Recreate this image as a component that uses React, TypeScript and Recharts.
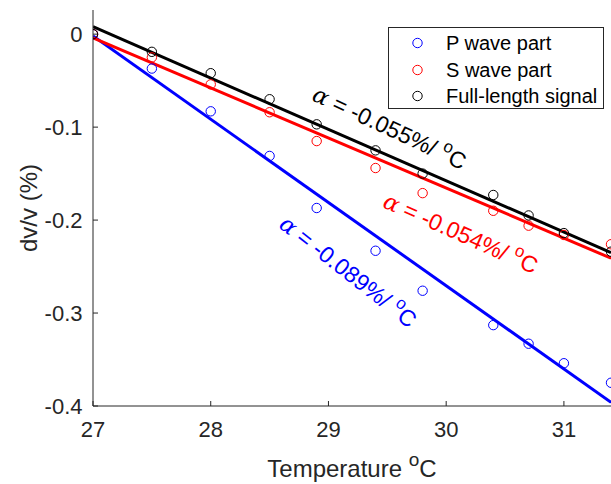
import {
  ComposedChart,
  Scatter,
  Line,
  XAxis,
  YAxis,
  Legend,
  ReferenceDot,
} from 'recharts';

// temperatures (°C) at which dv/v was measured
const TEMPS = [27, 27.5, 28, 28.5, 28.9, 29.4, 29.8, 30.4, 30.7, 31.0, 31.4];

// measured dv/v (%)
const P_WAVE = [0, -0.037, -0.083, -0.131, -0.187, -0.233, -0.276, -0.313, -0.333, -0.354, -0.375];
const S_WAVE = [0, -0.025, -0.054, -0.084, -0.115, -0.144, -0.171, -0.19, -0.206, -0.216, -0.226];
const FULL = [0, -0.019, -0.042, -0.07, -0.097, -0.125, -0.15, -0.173, -0.195, -0.214, -0.234];

// linear fits, read at both ends of the axis
const FIT_X = [27, 31.4];
const P_FIT = [-0.002, -0.396];
const S_FIT = [-0.004, -0.241];
const FULL_FIT = [0.008, -0.235];

const X_TICKS = [27, 28, 29, 30, 31];
const Y_TICKS = [0, -0.1, -0.2, -0.3, -0.4];

const SERIES_NAMES = ['P wave part', 'S wave part', 'Full-length signal'];
const SLOPE_LABELS = ['-0.089', '-0.054', '-0.055'];

const BLUE = '#0000ff';
const RED = '#ff0000';
const BLACK = '#000000';
const AXIS = '#262626';
const FONT = '"Liberation Sans", Arial, Helvetica, sans-serif';

const toPoints = (xs: number[], ys: number[]) => xs.map((x, i) => ({ x, y: ys[i] }));

const pData = toPoints(TEMPS, P_WAVE);
const sData = toPoints(TEMPS, S_WAVE);
const fullData = toPoints(TEMPS, FULL);
const pFit = toPoints(FIT_X, P_FIT);
const sFit = toPoints(FIT_X, S_FIT);
const fullFit = toPoints(FIT_X, FULL_FIT);

const ring = (color: string) => (props: any) => (
  <circle cx={props.cx} cy={props.cy} r={4.7} fill="none" stroke={color} strokeWidth={1} />
);

// rotated "α = ...%/ °C" annotation anchored at a data point
const slopeText = (slope: string, color: string, angle: number) => (props: any) => {
  const { cx, cy } = props;
  return (
    <text
      x={cx}
      y={cy}
      fill={color}
      fontSize={23}
      fontFamily={FONT}
      transform={`rotate(${angle}, ${cx}, ${cy})`}
    >
      <tspan fontFamily='"DejaVu Serif", serif' fontStyle="italic">α</tspan>
      <tspan>{` = ${slope}%/ `}</tspan>
      <tspan dy={-10} fontSize={17}>o</tspan>
      <tspan dy={10}>C</tspan>
    </text>
  );
};

const LegendBox = () => {
  const colors = [BLUE, RED, BLACK];
  return (
    <div
      style={{
        position: 'relative',
        width: 216,
        height: 82,
        border: `1px solid ${AXIS}`,
        background: '#fff',
        boxSizing: 'border-box',
        fontFamily: FONT,
        fontSize: 20,
        color: '#000',
      }}
    >
      {SERIES_NAMES.map((name, i) => (
        <div
          key={name}
          style={{ position: 'absolute', left: 0, top: 3 + i * 26.6, height: 24, display: 'flex', alignItems: 'center' }}
        >
          <svg width={57} height={24} style={{ display: 'block' }}>
            <circle cx={28.5} cy={12} r={4.7} fill="none" stroke={colors[i]} strokeWidth={1} />
          </svg>
          <span style={{ whiteSpace: 'nowrap', lineHeight: '24px' }}>{name}</span>
        </div>
      ))}
    </div>
  );
};

export default function App() {
  return (
    <div style={{ position: 'absolute', left: 0, top: 0, background: '#fff' }}>
      <ComposedChart width={611} height={484} margin={{ top: 10, right: 0, bottom: 0, left: 0 }}>
        <XAxis
          dataKey="x"
          type="number"
          domain={[27, 31.4]}
          ticks={X_TICKS}
          allowDataOverflow
          height={78}
          stroke={AXIS}
          tickSize={-5}
          tickMargin={20}
          tick={{ fill: AXIS, fontSize: 22, fontFamily: FONT }}
          label={(props: any) => {
            const vb = props.viewBox;
            return (
              <text
                x={vb.x + vb.width / 2}
                y={476.5}
                textAnchor="middle"
                fill={AXIS}
                fontSize={24}
                fontFamily={FONT}
              >
                <tspan>Temperature </tspan>
                <tspan dy={-11} fontSize={19}>o</tspan>
                <tspan dy={11}>C</tspan>
              </text>
            );
          }}
        />
        <XAxis
          xAxisId="top"
          orientation="top"
          dataKey="x"
          type="number"
          domain={[27, 31.4]}
          ticks={X_TICKS}
          height={0}
          stroke={AXIS}
          tickSize={-5}
          tickFormatter={() => ''}
        />
        <YAxis
          type="number"
          domain={[-0.4, 0.026]}
          ticks={Y_TICKS}
          allowDataOverflow
          width={93}
          stroke={AXIS}
          tickSize={-5}
          tickMargin={15.5}
          tickFormatter={(v: number) => (v === 0 ? '0' : String(v))}
          tick={{ fill: AXIS, fontSize: 22, fontFamily: FONT }}
          label={(props: any) => {
            const vb = props.viewBox;
            const cx = 36.5;
            const cy = vb.y + vb.height / 2;
            return (
              <text
                x={cx}
                y={cy}
                textAnchor="middle"
                fill={AXIS}
                fontSize={24}
                fontFamily={FONT}
                transform={`rotate(-90, ${cx}, ${cy})`}
              >
                dv/v (%)
              </text>
            );
          }}
        />

        <Scatter name={SERIES_NAMES[0]} data={pData} dataKey="y" shape={ring(BLUE)} isAnimationActive={false} />
        <Scatter name={SERIES_NAMES[1]} data={sData} dataKey="y" shape={ring(RED)} isAnimationActive={false} />
        <Scatter name={SERIES_NAMES[2]} data={fullData} dataKey="y" shape={ring(BLACK)} isAnimationActive={false} />

        <Line data={pFit} dataKey="y" stroke={BLUE} strokeWidth={3} dot={false} legendType="none" isAnimationActive={false} />
        <Line data={sFit} dataKey="y" stroke={RED} strokeWidth={3} dot={false} legendType="none" isAnimationActive={false} />
        <Line data={fullFit} dataKey="y" stroke={BLACK} strokeWidth={3} dot={false} legendType="none" isAnimationActive={false} />

        <ReferenceDot x={28.85} y={-0.0707} r={0} shape={slopeText(SLOPE_LABELS[2], BLACK, 25)} />
        <ReferenceDot x={29.45} y={-0.1856} r={0} shape={slopeText(SLOPE_LABELS[1], RED, 24)} />
        <ReferenceDot x={28.57} y={-0.2071} r={0} shape={slopeText(SLOPE_LABELS[0], BLUE, 38)} />

        <Legend
          layout="vertical"
          align="center"
          verticalAlign="middle"
          content={() => <LegendBox />}
          wrapperStyle={{ top: 27, left: 388, width: 216, height: 82 }}
        />
      </ComposedChart>
    </div>
  );
}
